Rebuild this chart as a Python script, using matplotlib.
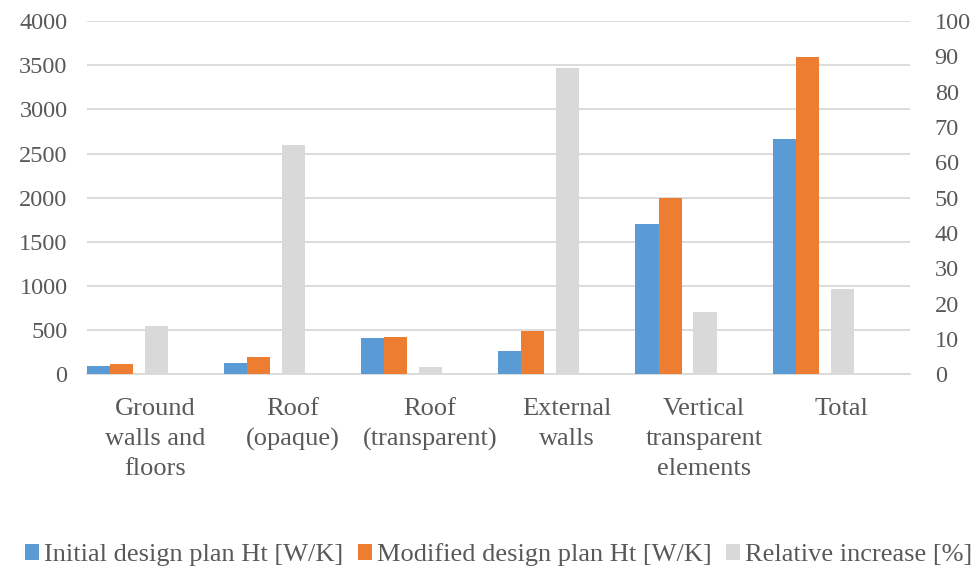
import matplotlib.pyplot as plt
import numpy as np

categories = ['Ground\nwalls and\nfloors', 'Roof\n(opaque)', 'Roof\n(transparent)',
              'External\nwalls', 'Vertical\ntransparent\nelements', 'Total']
initial = [90, 125, 411, 260, 1696, 2666]
modified = [113, 193, 419, 491, 1994, 3592]
relative = [13.6, 65.0, 2.1, 86.7, 17.5, 24.1]

plt.rcParams['font.family'] = ['Liberation Serif', 'DejaVu Serif']
txt = '#595959'
grid = '#d9d9d9'

fig = plt.figure(figsize=(9.76, 5.72), dpi=100)
ax = fig.add_axes([0.0891, 0.346, 0.843, 0.617])
ax2 = ax.twinx()

x = np.arange(len(categories)) + 0.5
w = 0.168
ax.bar(x - 0.416, initial, w, color='#5b9bd5', label='Initial design plan Ht [W/K]', zorder=3)
ax.bar(x - 0.248, modified, w, color='#ed7d31', label='Modified design plan Ht [W/K]', zorder=3)
ax2.bar(x + 0.007, relative, w, color='#d9d9d9', label='Relative increase [%]', zorder=3)

ax.set_xlim(0, len(categories))
ax.set_ylim(0, 4000)
ax.set_yticks(range(0, 4001, 500))
ax2.set_ylim(0, 100)
ax2.set_yticks(range(0, 101, 10))
ax.yaxis.grid(True, color=grid, linewidth=1.3, zorder=0)
ax.set_axisbelow(True)

ax.set_xticks(x)
ax.set_xticklabels(categories, linespacing=1.47)
for a in (ax, ax2):
    for s in a.spines.values():
        s.set_visible(False)
    a.tick_params(length=0, labelsize=17.5, colors=txt)
ax.spines['bottom'].set_visible(True)
ax.spines['bottom'].set_color(grid)
ax.spines['bottom'].set_linewidth(1.3)
ax.tick_params(axis='x', pad=17, labelsize=19)
ax.tick_params(axis='y', pad=14)
ax2.tick_params(axis='y', pad=18)

h1, l1 = ax.get_legend_handles_labels()
h2, l2 = ax2.get_legend_handles_labels()
leg = fig.legend(h1 + h2, l1 + l2, loc='center', bbox_to_anchor=(0.511, 0.03), ncol=3,
                 frameon=False, fontsize=19, handlelength=0.53, handleheight=0.53,
                 handletextpad=0.2, columnspacing=0.53, borderpad=0, borderaxespad=0)
for t in leg.get_texts():
    t.set_color(txt)

fig.savefig('out.png', dpi=100)
